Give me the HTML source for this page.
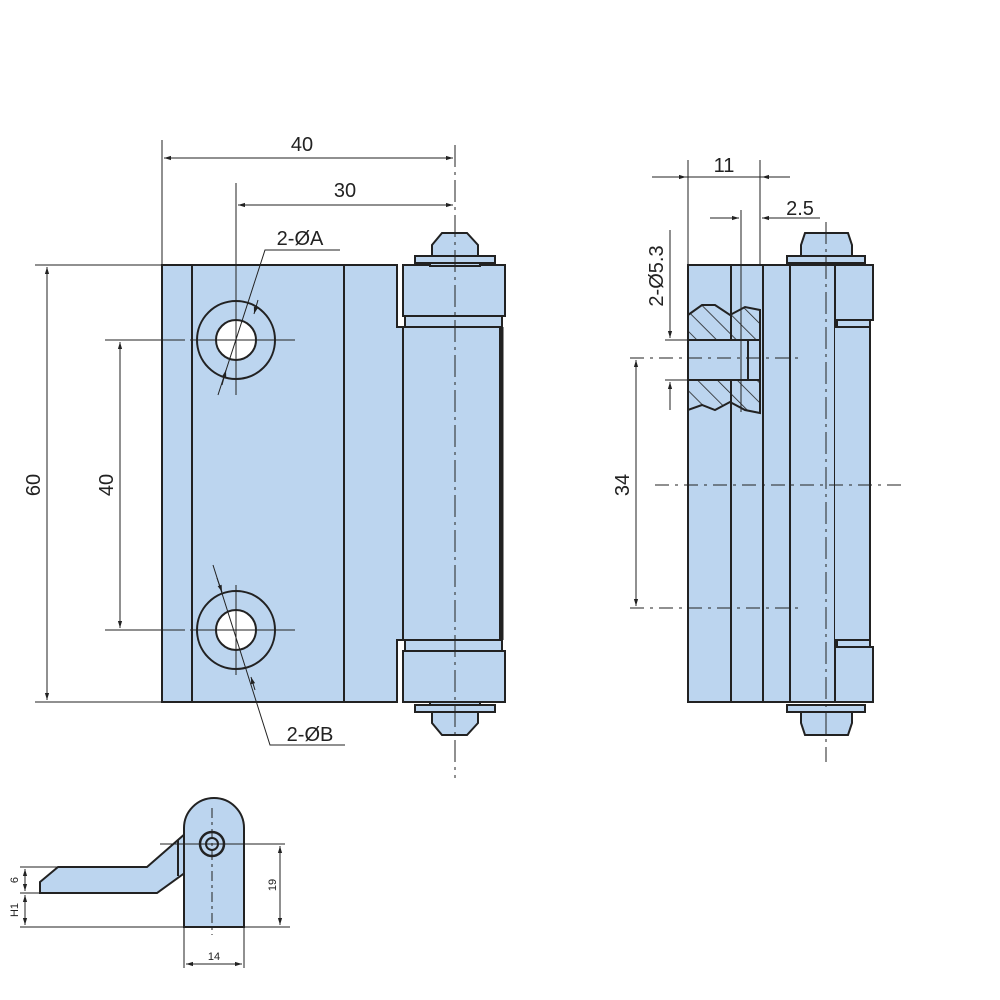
<!DOCTYPE html>
<html><head><meta charset="utf-8"><style>
html,body{margin:0;padding:0;background:#fff}
svg{display:block}
text{font-family:"Liberation Sans",sans-serif;fill:#222}
</style></head><body>
<svg width="1000" height="1000" viewBox="0 0 1000 1000" xmlns="http://www.w3.org/2000/svg">
<defs>
<marker id="a" viewBox="0 0 10 10" refX="10" refY="5" markerWidth="9" markerHeight="7" orient="auto-start-reverse"><path d="M0,2 L10,5 L0,8 z" fill="#222"/></marker>
<pattern id="h" width="14" height="14" patternUnits="userSpaceOnUse" patternTransform="rotate(-45)"><line x1="0" y1="0" x2="0" y2="14" stroke="#222" stroke-width="1.6"/></pattern>
</defs>
<g stroke="#222" stroke-width="2" fill="#bcd5ef">
<path d="M162,265 H397 V327 H403 V640 H397 V702 H162 Z"/>
<line x1="192" y1="265" x2="192" y2="702"/>
<line x1="344" y1="265" x2="344" y2="702"/>
<rect x="403" y="265" width="102" height="51"/>
<rect x="405" y="316" width="97" height="11"/>
<rect x="403" y="327" width="97" height="313"/>
<line x1="502" y1="327" x2="502" y2="640" stroke-width="3"/>
<rect x="405" y="640" width="97" height="11"/>
<rect x="403" y="651" width="102" height="51"/>
<path d="M442,233 H467 L478,245 V256 H432 V245 Z"/>
<rect x="415" y="256" width="80" height="7"/>
<rect x="430" y="263" width="50" height="3"/>
<path d="M442,735 H467 L478,723 V712 H432 V723 Z"/>
<rect x="415" y="705" width="80" height="7"/>
<rect x="430" y="702" width="50" height="3"/>
<circle cx="236" cy="340" r="39"/><circle cx="236" cy="340" r="20" fill="#fff"/>
<circle cx="236" cy="630" r="39"/><circle cx="236" cy="630" r="20" fill="#fff"/>

<rect x="688" y="265" width="147" height="437"/>
<line x1="731" y1="265" x2="731" y2="702"/>
<line x1="763" y1="265" x2="763" y2="702"/>
<line x1="790" y1="265" x2="790" y2="702"/>
<path d="M835,265 H873 V320 H835 Z"/>
<path d="M837,320 H870 V327 H837 Z"/>
<path d="M835,327 H870 V640 H835"/>
<path d="M837,640 H870 V647 H837 Z"/>
<path d="M835,647 H873 V702 H835 Z"/>
<path d="M805,233 H848 L852,245 V256 H801 V245 Z"/>
<rect x="787" y="256" width="78" height="7"/>
<path d="M805,735 H848 L852,723 V712 H801 V723 Z"/>
<rect x="787" y="705" width="78" height="7"/>
<path d="M688,315 L702,305 L715,305 L730,315 L745,307 L760,310 V340 H688 Z" fill="url(#h)"/>
<path d="M688,380 H760 V413 L745,410 L730,402 L715,410 L702,405 L688,410 Z" fill="url(#h)"/>
<rect x="688" y="340" width="72" height="40"/>
<line x1="748" y1="340" x2="748" y2="380"/>

<path d="M40,882 L58,867 H147 L186,833 V872 L157,893 H40 Z"/>
<line x1="178" y1="840" x2="178" y2="876"/>
<path d="M184,927 V828 A30,30 0 0 1 244,828 V927 Z"/>
<circle cx="212" cy="844" r="12" stroke-width="2.5"/>
<circle cx="212" cy="844" r="6"/>
</g>

<g stroke="#222" stroke-width="1" fill="none">
<line x1="455" y1="145" x2="455" y2="778" stroke-dasharray="22,5,3,5"/>
<line x1="826" y1="222" x2="826" y2="762" stroke-dasharray="22,5,3,5"/>
<line x1="236" y1="183" x2="236" y2="395"/>
<line x1="236" y1="585" x2="236" y2="675"/>
<line x1="105" y1="340" x2="185" y2="340"/><line x1="190" y1="340" x2="295" y2="340"/>
<line x1="105" y1="630" x2="185" y2="630"/><line x1="190" y1="630" x2="295" y2="630"/>
<line x1="162" y1="140" x2="162" y2="265"/>
<line x1="164" y1="158" x2="453" y2="158" marker-start="url(#a)" marker-end="url(#a)"/>
<line x1="238" y1="205" x2="453" y2="205" marker-start="url(#a)" marker-end="url(#a)"/>
<line x1="35" y1="265" x2="162" y2="265"/>
<line x1="35" y1="702" x2="162" y2="702"/>
<line x1="47" y1="267" x2="47" y2="700" marker-start="url(#a)" marker-end="url(#a)"/>
<line x1="120" y1="342" x2="120" y2="628" marker-start="url(#a)" marker-end="url(#a)"/>
<polyline points="340,250 265,250 218,395"/>
<line x1="222" y1="385" x2="226" y2="370" marker-end="url(#a)"/>
<line x1="258" y1="300" x2="254" y2="314" marker-end="url(#a)"/>
<polyline points="345,745 270,745 213,565"/>
<line x1="217" y1="578" x2="222" y2="592" marker-end="url(#a)"/>
<line x1="255" y1="690" x2="251" y2="677" marker-end="url(#a)"/>
<line x1="688" y1="160" x2="688" y2="265"/>
<line x1="760" y1="160" x2="760" y2="265"/>
<line x1="652" y1="177" x2="686" y2="177" marker-end="url(#a)"/>
<line x1="790" y1="177" x2="762" y2="177" marker-end="url(#a)"/>
<line x1="686" y1="177" x2="762" y2="177"/>
<line x1="741" y1="210" x2="741" y2="412"/>
<line x1="710" y1="218" x2="739" y2="218" marker-end="url(#a)"/>
<line x1="820" y1="218" x2="762" y2="218" marker-end="url(#a)"/>
<line x1="670" y1="230" x2="670" y2="338" marker-end="url(#a)"/>
<line x1="670" y1="410" x2="670" y2="382" marker-end="url(#a)"/>
<line x1="665" y1="340" x2="690" y2="340"/>
<line x1="665" y1="380" x2="690" y2="380"/>
<line x1="630" y1="358" x2="800" y2="358" stroke-dasharray="14,6,3,6"/>
<line x1="630" y1="608" x2="800" y2="608" stroke-dasharray="14,6,3,6"/>
<line x1="655" y1="485" x2="905" y2="485" stroke-dasharray="14,6,3,6"/>
<line x1="636" y1="360" x2="636" y2="606" marker-start="url(#a)" marker-end="url(#a)"/>
<line x1="212" y1="808" x2="212" y2="935" stroke-dasharray="10,4,3,4"/>
<line x1="160" y1="844" x2="285" y2="844"/>
<line x1="20" y1="927" x2="290" y2="927"/>
<line x1="20" y1="867" x2="58" y2="867"/>
<line x1="20" y1="893" x2="40" y2="893"/>
<line x1="280" y1="846" x2="280" y2="925" marker-start="url(#a)" marker-end="url(#a)"/>
<line x1="25" y1="869" x2="25" y2="891" marker-start="url(#a)" marker-end="url(#a)"/>
<line x1="25" y1="895" x2="25" y2="925" marker-start="url(#a)" marker-end="url(#a)"/>
<line x1="184" y1="927" x2="184" y2="968"/>
<line x1="244" y1="927" x2="244" y2="968"/>
<line x1="186" y1="964" x2="242" y2="964" marker-start="url(#a)" marker-end="url(#a)"/>
</g>

<g font-size="20">
<text x="302" y="151" text-anchor="middle">40</text>
<text x="345" y="197" text-anchor="middle">30</text>
<text x="300" y="245" text-anchor="middle">2-ØA</text>
<text x="310" y="741" text-anchor="middle">2-ØB</text>
<text transform="translate(40,485) rotate(-90)" text-anchor="middle">60</text>
<text transform="translate(113,485) rotate(-90)" text-anchor="middle">40</text>
<text x="724" y="172" text-anchor="middle">11</text>
<text x="800" y="215" text-anchor="middle">2.5</text>
<text transform="translate(663,276) rotate(-90)" text-anchor="middle">2-Ø5.3</text>
<text transform="translate(629,485) rotate(-90)" text-anchor="middle">34</text>
</g>
<g font-size="11">
<text transform="translate(18,880) rotate(-90)" text-anchor="middle">6</text>
<text transform="translate(18,910) rotate(-90)" text-anchor="middle">H1</text>
<text transform="translate(276,885) rotate(-90)" text-anchor="middle">19</text>
<text x="214" y="960" text-anchor="middle">14</text>
</g>
</svg>
</body></html>
